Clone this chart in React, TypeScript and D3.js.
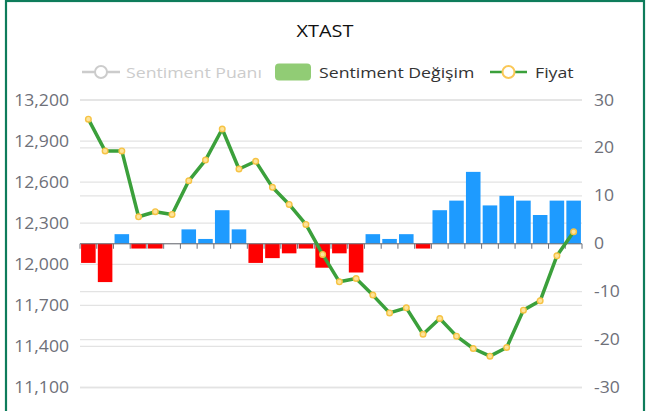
import React from "react";
import * as d3 from "d3";

// 30 periods, no visible labels on the category axis
const categories: string[] = Array.from({ length: 30 }, (_, i) => `P${i + 1}`);

// Sentiment Değişim (right axis)
const sentimentChange: number[] = [
  -4, -8, 2, -1, -1, 0, 3, 1, 7, 3,
  -4, -3, -2, -1, -5, -2, -6, 2, 1, 2,
  -1, 7, 9, 15, 8, 10, 9, 6, 9, 9,
];

// Fiyat (left axis)
const price: number[] = [
  13060, 12828, 12828, 12347, 12384, 12364, 12610, 12761, 12988, 12696,
  12752, 12562, 12437, 12291, 12072, 11872, 11896, 11775, 11645, 11682,
  11489, 11604, 11475, 11385, 11329, 11392, 11665, 11733, 12062, 12237,
];

const leftTicks: number[] = [11100, 11400, 11700, 12000, 12300, 12600, 12900, 13200];
const rightTicks: number[] = [-30, -20, -10, 0, 10, 20, 30];

const W = 646;
const H = 411;
const FONT = "'Open Sans', sans-serif";

// text drawn a little wider than the font, like the original screenshot
function WideText(props: {
  x: number;
  y: number;
  sx: number;
  size: number;
  fill: string;
  anchor?: "start" | "middle" | "end";
  children: React.ReactNode;
}) {
  const { x, y, sx, size, fill, anchor = "start", children } = props;
  return (
    <text
      transform={`translate(${x},${y}) scale(${sx},1)`}
      fontSize={size}
      fill={fill}
      textAnchor={anchor}
    >
      {children}
    </text>
  );
}

export default function App() {
  const plot = { left: 80, right: 582, top: 100, bottom: 387.5 };

  const x = d3
    .scaleBand<string>()
    .domain(categories)
    .range([plot.left, plot.right])
    .paddingInner(0.13)
    .paddingOuter(0.065);

  const yL = d3.scaleLinear().domain([11100, 13200]).range([plot.bottom, plot.top]);
  const yR = d3.scaleLinear().domain([-30, 30]).range([plot.bottom, plot.top]);

  const step = (plot.right - plot.left) / categories.length;
  const cx = (c: string) => (x(c) as number) + x.bandwidth() / 2;

  const line = d3
    .line<number>()
    .x((_, i) => cx(categories[i]))
    .y((d) => yL(d));

  const zeroY = yR(0);

  return (
    <svg
      width={W}
      height={H}
      style={{ position: "fixed", left: 0, top: 0, background: "#fff" }}
      fontFamily={FONT}
    >
      {/* card border */}
      <rect x={6} y={1} width={638} height={430} fill="#fff" stroke="#0e7c5b" strokeWidth={2.2} />

      {/* title */}
      <WideText x={325} y={37} sx={1.17} size={17} fill="#111" anchor="middle">
        XTAST
      </WideText>

      {/* legend */}
      <g>
        <line x1={82} x2={120} y1={72} y2={72} stroke="#ccc" strokeWidth={2.5} />
        <circle cx={101} cy={72} r={6} fill="#fff" stroke="#ccc" strokeWidth={2} />
        <WideText x={126} y={77.5} sx={1.18} size={15} fill="#ccc">
          Sentiment Puanı
        </WideText>

        <rect x={275} y={63.5} width={36} height={17} rx={4} fill="#91cc75" />
        <WideText x={319} y={77.5} sx={1.18} size={15} fill="#333">
          Sentiment Değişim
        </WideText>

        <line x1={490} x2={527} y1={72} y2={72} stroke="#3ba03b" strokeWidth={2.5} />
        <circle cx={508.5} cy={72} r={6} fill="#fff" stroke="#fac858" strokeWidth={2} />
        <WideText x={535} y={77.5} sx={1.18} size={15} fill="#333">
          Fiyat
        </WideText>
      </g>

      {/* grid lines for both axes */}
      <g stroke="#e3e3e3" strokeWidth={1.3}>
        {leftTicks.map((t) => (
          <line key={`l${t}`} x1={plot.left} x2={plot.right} y1={yL(t)} y2={yL(t)} />
        ))}
        {rightTicks.map((t) => (
          <line key={`r${t}`} x1={plot.left} x2={plot.right} y1={yR(t)} y2={yR(t)} />
        ))}
      </g>

      {/* left axis labels */}
      <g>
        {leftTicks.map((t) => (
          <WideText key={t} x={69} y={yL(t) + 5.5} sx={1.1} size={16} fill="#6e7079" anchor="end">
            {d3.format(",")(t)}
          </WideText>
        ))}
      </g>

      {/* right axis labels */}
      <g>
        {rightTicks.map((t) => (
          <WideText key={t} x={594} y={yR(t) + 5.5} sx={1.1} size={16} fill="#6e7079">
            {t}
          </WideText>
        ))}
      </g>

      {/* bars */}
      <g>
        {sentimentChange.map((v, i) => {
          const c = categories[i];
          const y0 = yR(Math.max(0, v));
          const y1 = yR(Math.min(0, v));
          return (
            <rect
              key={c}
              x={x(c)}
              y={y0}
              width={x.bandwidth()}
              height={y1 - y0}
              fill={v >= 0 ? "#1e9bff" : "#ff0000"}
            />
          );
        })}
      </g>

      {/* category axis at zero */}
      <g stroke="#6e7079" strokeWidth={1}>
        <line x1={plot.left} x2={plot.right} y1={zeroY} y2={zeroY} />
        {d3.range(categories.length + 1).map((i) => (
          <line
            key={i}
            x1={plot.left + i * step}
            x2={plot.left + i * step}
            y1={zeroY}
            y2={zeroY + 5}
          />
        ))}
      </g>

      {/* price line */}
      <path d={line(price) || ""} fill="none" stroke="#3ba03b" strokeWidth={3.5} strokeLinejoin="round" />
      <g>
        {price.map((v, i) => (
          <circle
            key={i}
            cx={cx(categories[i])}
            cy={yL(v)}
            r={2.8}
            fill="#fde39a"
            stroke="#f6c344"
            strokeWidth={1.4}
          />
        ))}
      </g>
    </svg>
  );
}
